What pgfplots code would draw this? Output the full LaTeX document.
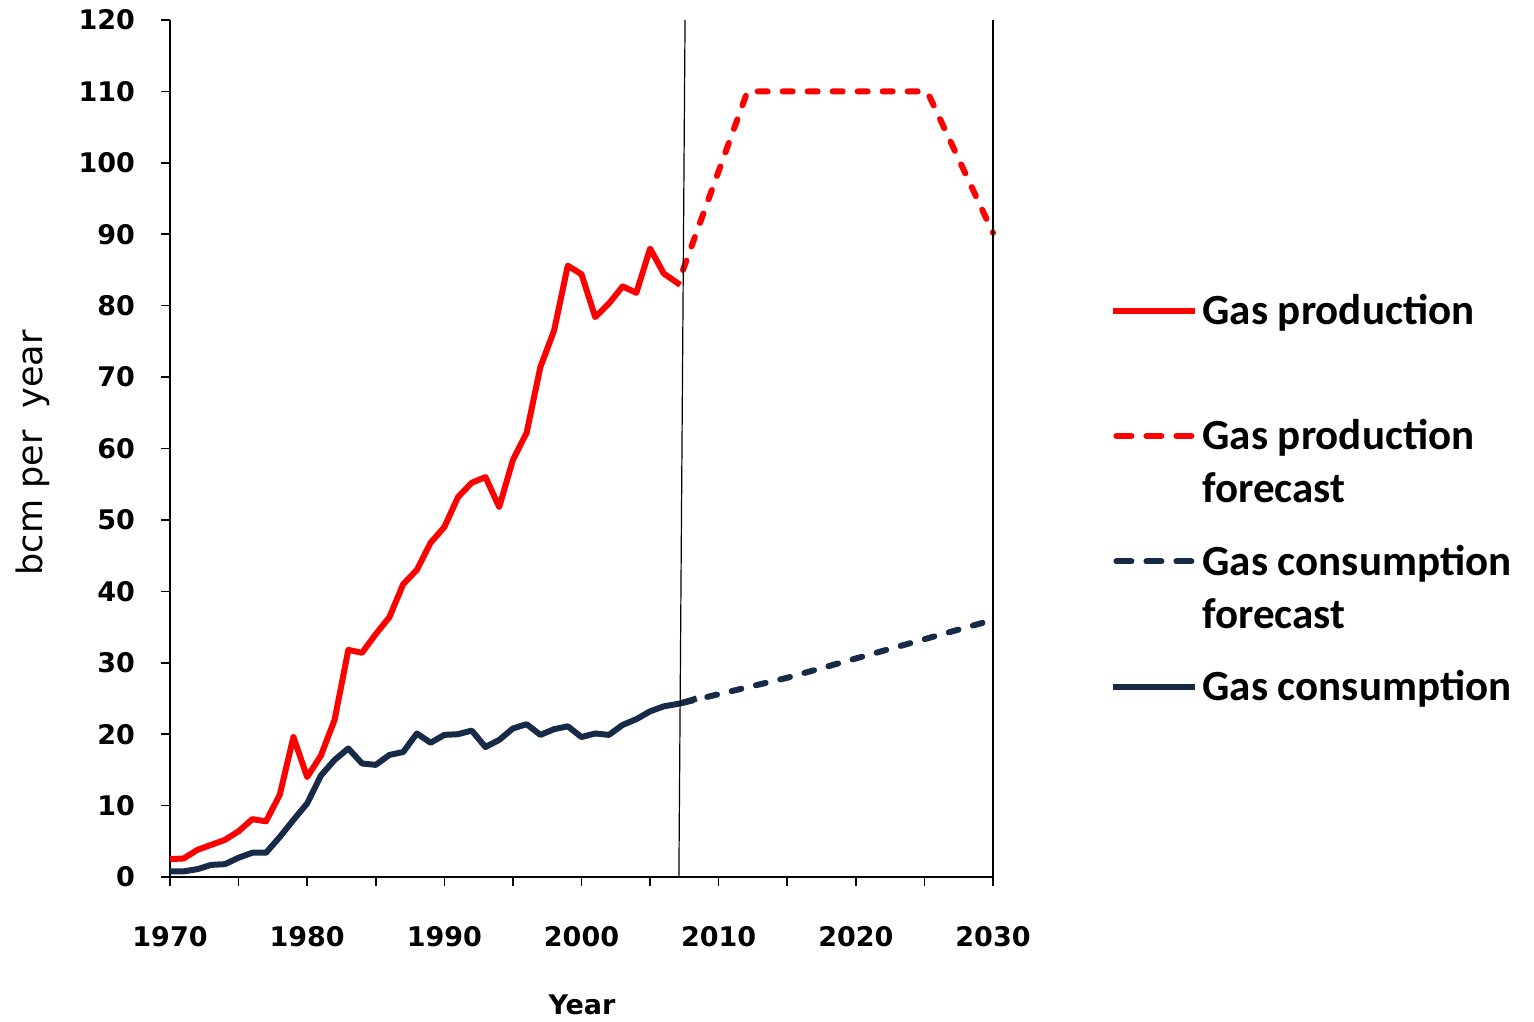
\documentclass[border=0pt]{standalone}
\usepackage{pgfplots}
\pgfplotsset{compat=1.18}
\usepackage{fontspec}
\setmainfont{DejaVu Sans}
\newfontfamily\legfont{Carlito}
\definecolor{navy}{RGB}{23,43,72}
\newcommand{\lentry}[2]{\vtop{\hbox{#1}\hbox{#2}}}
\pgfplotsset{dashleg/.style={legend image code/.code={\draw[##1, dash pattern=on 7.5pt off 7.5pt, dash phase=13.5pt] (0pt,0pt) -- (41pt,0pt);}}}
\begin{document}
\begin{tikzpicture}
\begin{axis}[
  scale only axis,
  width=411.5pt, height=428.5pt,
  xmin=1970, xmax=2030, ymin=0, ymax=120,
  axis x line=bottom, axis y line=left,
  axis line style={-, line width=0.8pt, black},
  tick style={line width=0.8pt, black},
  tick align=outside,
  major tick length=4.5pt, minor tick length=4.5pt,
  xtick={1970,1980,...,2030},
  minor xtick={1975,1985,...,2025},
  ytick={0,10,...,120},
  /pgf/number format/1000 sep={},
  /pgf/number format/assume math mode=true,
  ticklabel style={font=\fontsize{13.5}{16}\selectfont\bfseries},
  xticklabel style={yshift=-16.5pt},
  yticklabel style={xshift=-9.5pt},
  xlabel={Year},
  xlabel style={font=\fontsize{13.5}{16}\selectfont\bfseries, at={(axis description cs:0.5006,-0.149)}, anchor=center},
  ylabel={bcm per\ \ year},
  ylabel style={font=\fontsize{17.5}{20}\selectfont, at={(axis description cs:-0.1665,0.495)}, anchor=center},
  clip=false,
  legend cell align=left,
  legend style={draw=none, fill=none, at={(rel axis cs:1.1422,0.685)}, anchor=north west,
    font=\legfont\fontsize{21.5}{26.5}\selectfont\bfseries, inner sep=0pt, row sep=42pt,
    nodes={inner sep=2pt}},
  legend image code/.code={\draw[#1] (0pt,0pt) -- (41pt,0pt);},
]
\path (rel axis cs:-0.20656,-0.16686) rectangle (rel axis cs:1.65735,1.02334);
\addplot[red, line width=3pt, line join=round] coordinates {
(1970,2.5) (1971,2.6) (1972,3.8) (1973,4.5) (1974,5.2) (1975,6.4) (1976,8.1) (1977,7.8)
(1978,11.5) (1979,19.6) (1980,14) (1981,17) (1982,22) (1983,31.8) (1984,31.4) (1985,34)
(1986,36.4) (1987,41) (1988,43) (1989,46.8) (1990,49) (1991,53.2) (1992,55.2) (1993,56)
(1994,51.8) (1995,58.4) (1996,62.2) (1997,71.4) (1998,76.5) (1999,85.6) (2000,84.4)
(2001,78.4) (2002,80.3) (2003,82.7) (2004,81.8) (2005,88) (2006,84.5) (2007.2,82.9)};
\addlegendentry{\lentry{Gas production}{}}
\addplot[red, line width=3pt, line cap=round, line join=round, dash pattern=on 5pt off 7.5pt, dashleg] coordinates {
(2007.4,85) (2012.1,110) (2025.2,110) (2030,90.2)};
\addlegendentry{\lentry{Gas production}{forecast}}
\addplot[navy, line width=3pt, line cap=round, line join=round, dash pattern=on 5pt off 7.5pt, dashleg] coordinates {
(2007.4,24.4) (2010,25.6) (2015,27.9) (2020,30.6) (2025,33.3) (2030,36)};
\addlegendentry{\lentry{Gas consumption}{forecast}}
\addplot[navy, line width=3pt, line join=round] coordinates {
(1970,0.8) (1971,0.8) (1972,1.1) (1973,1.7) (1974,1.8) (1975,2.7) (1976,3.4) (1977,3.4)
(1978,5.6) (1979,8) (1980,10.3) (1981,14.2) (1982,16.4) (1983,18) (1984,15.9) (1985,15.7)
(1986,17.1) (1987,17.5) (1988,20.1) (1989,18.8) (1990,19.9) (1991,20) (1992,20.5) (1993,18.2)
(1994,19.2) (1995,20.8) (1996,21.4) (1997,19.9) (1998,20.7) (1999,21.1) (2000,19.6)
(2001,20.1) (2002,19.9) (2003,21.3) (2004,22.1) (2005,23.2) (2006,23.9) (2007.2,24.3) (2008.4,25)};
\addlegendentry{\lentry{Gas consumption}{}}
\addplot[black, line width=0.6pt, forget plot] coordinates {(2007.1,0) (2007.55,120)};
\addplot[black, line width=0.8pt, forget plot] coordinates {(2030,0) (2030,120)};
\end{axis}
\end{tikzpicture}
\end{document}
